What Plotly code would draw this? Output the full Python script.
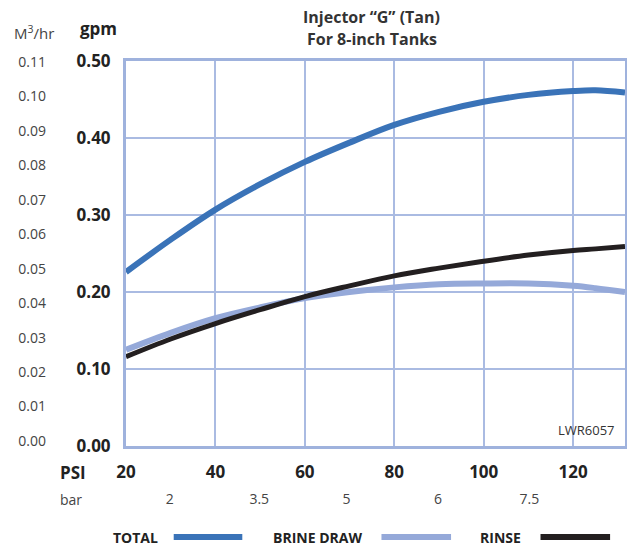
import plotly.graph_objects as go

# ---- data ----
psi = [20, 30, 40, 50, 60, 70, 80, 90, 100, 110, 120, 125, 131.6]
total = [0.226, 0.268, 0.307, 0.340, 0.369, 0.394, 0.417, 0.434, 0.447, 0.456, 0.461, 0.462, 0.459]
brine_draw = [0.125, 0.147, 0.166, 0.180, 0.192, 0.200, 0.206, 0.210, 0.211, 0.211, 0.208, 0.205, 0.200]
rinse = [0.116, 0.139, 0.159, 0.177, 0.194, 0.208, 0.221, 0.231, 0.240, 0.248, 0.254, 0.256, 0.259]

psi_ticks = [20, 40, 60, 80, 100, 120]
gpm_ticks = [0.0, 0.1, 0.2, 0.3, 0.4, 0.5]
m3hr_ticks = [0.00, 0.01, 0.02, 0.03, 0.04, 0.05, 0.06, 0.07, 0.08, 0.09, 0.10, 0.11]
bar_ticks = [29.8, 49.8, 69.3, 89.8, 110.2]
bar_text = ["2", "3.5", "5", "6", "7.5"]

series = [("TOTAL", total, "#3a73b8", 6),
          ("BRINE DRAW", brine_draw, "#95a9d9", 6),
          ("RINSE", rinse, "#231f20", 5)]

FONT = "Open Sans"
GRID = "#aabbe2"
BORDER = "#9fb2dd"

fig = go.Figure()
for name, vals, col, w in series:
    fig.add_trace(go.Scatter(x=psi, y=vals, mode="lines", name=name,
                             line=dict(color=col, width=w, shape="spline"),
                             showlegend=False))
# empty trace for secondary axes (M3/hr and bar)
fig.add_trace(go.Scatter(x=[], y=[], xaxis="x2", yaxis="y2", showlegend=False))

# the page body has an 8px margin, so the figure is 8px smaller
fig.update_layout(
    width=627, height=541,
    margin=dict(l=118, r=7, t=53, b=103),
    paper_bgcolor="white", plot_bgcolor="white",
    font=dict(family=FONT, color="#222"),
    xaxis=dict(range=[20, 131.6], tickvals=psi_ticks, showgrid=True, gridcolor=GRID,
               gridwidth=1.5, zeroline=False, showline=True, linecolor=BORDER,
               linewidth=3, mirror=True, ticks="",
               tickfont=dict(size=17, family=FONT, color="#222", weight="bold"),
               ticklabelstandoff=9),
    yaxis=dict(range=[0, 0.5], tickvals=gpm_ticks, tickformat=".2f", showgrid=True,
               gridcolor=GRID, gridwidth=1.5, zeroline=False, showline=True,
               linecolor=BORDER, linewidth=3, mirror=True, ticks="",
               tickfont=dict(size=17, family=FONT, color="#222", weight="bold"),
               ticklabelstandoff=9),
    xaxis2=dict(overlaying="x", side="bottom", range=[20, 131.6], tickvals=bar_ticks,
                ticktext=bar_text, showgrid=False, zeroline=False, showline=False,
                ticks="", tickfont=dict(size=14, family=FONT, color="#444"),
                ticklabelstandoff=43),
    yaxis2=dict(overlaying="y", side="left", range=[-0.00145, 0.1103],
                tickvals=m3hr_ticks, tickformat=".2f", showgrid=False, zeroline=False,
                showline=False, ticks="",
                tickfont=dict(size=14, family=FONT, color="#444"),
                ticklabelstandoff=79),
)

def px_x(p):
    return (p - 126) / 502.0

def px_y(p):
    return (446 - p) / 385.0

ann = [
    dict(text="Injector “G” (Tan)", x=px_x(373), y=px_y(17), size=16, bold=True, color="#333"),
    dict(text="For 8-inch Tanks", x=px_x(373), y=px_y(39), size=16, bold=True, color="#333"),
    dict(text="M<sup>3</sup>/hr", x=px_x(33), y=px_y(32), size=15, bold=False, color="#444"),
    dict(text="gpm", x=px_x(98), y=px_y(29), size=17, bold=True, color="#222"),
    dict(text="PSI", x=px_x(73), y=px_y(472), size=17, bold=True, color="#222"),
    dict(text="bar", x=px_x(70.5), y=px_y(499), size=14, bold=False, color="#444"),
    dict(text="LWR6057", x=px_x(589), y=px_y(430), size=13, bold=False, color="#333"),
]
for a in ann:
    fig.add_annotation(text=a["text"], xref="paper", yref="paper", x=a["x"], y=a["y"],
                       xanchor="center", yanchor="middle", showarrow=False,
                       font=dict(family=FONT, size=a["size"], color=a["color"],
                                 weight="bold" if a["bold"] else "normal"))

# legend (text before line)
legend_items = [("TOTAL", 136, 174, 243), ("BRINE DRAW", 318.5, 383, 453), ("RINSE", 503, 543, 613)]
for (name, vals, col, w), (label, tx, x0, x1) in zip(series, legend_items):
    fig.add_annotation(text=label, xref="paper", yref="paper", x=px_x(tx), y=px_y(537),
                       xanchor="center", yanchor="middle", showarrow=False,
                       font=dict(family=FONT, size=14, color="#222", weight="bold"))
    fig.add_shape(type="line", xref="paper", yref="paper", x0=px_x(x0), x1=px_x(x1),
                  y0=px_y(537), y1=px_y(537), line=dict(color=col, width=6))

fig.write_html("out.html")
